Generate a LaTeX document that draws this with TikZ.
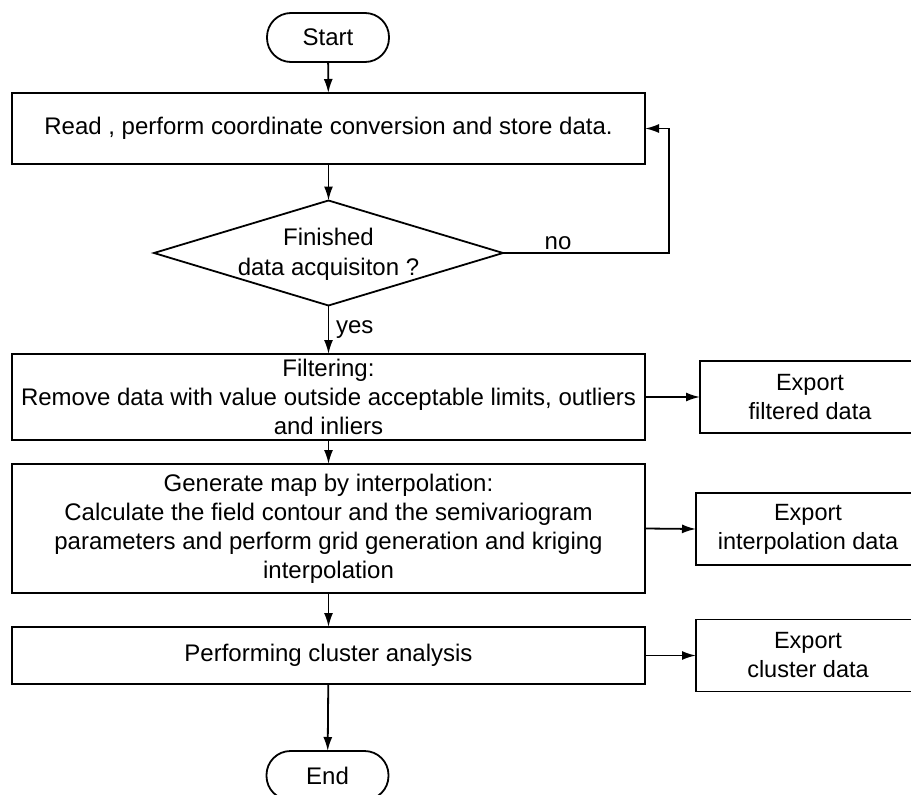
\documentclass[tikz,border=0pt]{standalone}
\usepackage{fontspec}
\setmainfont{Liberation Sans}
\usetikzlibrary{arrows.meta,shapes.geometric}
\begin{document}
\begin{tikzpicture}[x=1pt,y=-1pt,
  every node/.style={font=\fontsize{24}{29}\selectfont, inner sep=0pt, outer sep=0pt},
  procbox/.style={draw, line width=1.8pt, rectangle, align=center},
  termbox/.style={draw, line width=1.8pt, rectangle, rounded corners=24pt, minimum width=122pt, minimum height=49pt},
  decbox/.style={draw, line width=1.8pt, diamond, minimum width=349pt, minimum height=105pt},
  conn/.style={line width=1.8pt, -{Latex[length=14pt,width=9pt]}}
]
\useasboundingbox (0,0) rectangle (911,795);
\node[termbox] (start) at (328,37.5) {Start};
\node[procbox, minimum width=633pt, minimum height=71pt] (read) at (328.5,128.5) {Read , perform coordinate conversion and store data.};
\node[decbox] (dec) at (328.5,253) {};
\node[align=center] (dectext) at (328.5,254) {Finished\\[1pt]data acquisiton ?};
\node[procbox, minimum width=633pt, minimum height=86pt] (filter) at (328.5,397) {Filtering:\\Remove data with value outside acceptable limits, outliers\\and inliers};
\node[procbox, minimum width=220pt, minimum height=72pt, font=\fontsize{23.5}{29}\selectfont] (expF) at (810,397) {Export\\filtered data};
\node[procbox, minimum width=633pt, minimum height=129pt] (gen) at (328.5,528.5) {Generate map by interpolation:\\Calculate the field contour and the semivariogram\\parameters and perform grid generation and kriging\\interpolation};
\node[procbox, minimum width=224pt, minimum height=72pt, font=\fontsize{23.5}{29}\selectfont] (expI) at (808,529) {Export\\interpolation data};
\node[procbox, minimum width=633pt, minimum height=57pt] (clus) at (328.5,655.5) {Performing cluster analysis};
\node[procbox, minimum width=224pt, minimum height=72pt, font=\fontsize{23.5}{29}\selectfont] (expC) at (808,655.5) {Export\\cluster data};
\node[termbox] (end) at (327.5,775.5) {End};
\coordinate (loopc) at (669,253);
\node[anchor=south] (nolbl) at (558,250) {no};
\node[anchor=west] (yeslbl) at (336,330) {yes};
\draw[conn] (start) -- (read);
\draw[conn] (read) -- (dec);
\draw[conn] (dec) -- (filter);
\draw[conn] (filter) -- (gen);
\draw[conn] (gen) -- (clus);
\draw[conn] (clus) -- (end);
\draw[conn] (filter.east) -- (expF.west);
\draw[conn] (gen.east) -- (expI.west);
\draw[conn] (clus.east) -- (expC.west);
\draw[conn] (dec.east) -- (loopc) |- (read.east);
\end{tikzpicture}
\end{document}
